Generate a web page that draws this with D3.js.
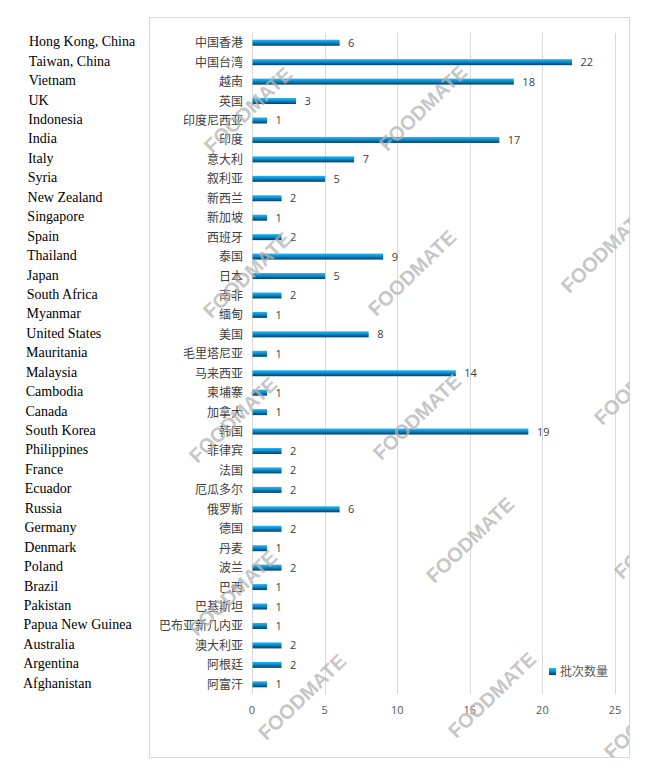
<!DOCTYPE html>
<html>
<head>
<meta charset="utf-8">
<script src="https://cdn.jsdelivr.net/npm/d3@7"></script>
<style>
  body { margin: 0; background: #fff; }
</style>
</head>
<body>
<div id="chart"></div>
<script>
const categories = ['中国香港', '中国台湾', '越南', '英国', '印度尼西亚', '印度', '意大利', '叙利亚', '新西兰', '新加坡',
  '西班牙', '泰国', '日本', '南非', '缅甸', '美国', '毛里塔尼亚', '马来西亚', '柬埔寨', '加拿大', '韩国', '菲律宾',
  '法国', '厄瓜多尔', '俄罗斯', '德国', '丹麦', '波兰', '巴西', '巴基斯坦', '巴布亚新几内亚', '澳大利亚', '阿根廷', '阿富汗'];
const englishNames = ['Hong Kong, China', 'Taiwan, China', 'Vietnam', 'UK', 'Indonesia', 'India', 'Italy', 'Syria',
  'New Zealand', 'Singapore', 'Spain', 'Thailand', 'Japan', 'South Africa', 'Myanmar', 'United States', 'Mauritania',
  'Malaysia', 'Cambodia', 'Canada', 'South Korea', 'Philippines', 'France', 'Ecuador', 'Russia', 'Germany', 'Denmark',
  'Poland', 'Brazil', 'Pakistan', 'Papua New Guinea', 'Australia', 'Argentina', 'Afghanistan'];
const values = [6, 22, 18, 3, 1, 17, 7, 5, 2, 1, 2, 9, 5, 2, 1, 8, 1, 14, 1, 1, 19, 2, 2, 2, 6, 2, 1, 2, 1, 1, 1, 2, 2, 1];
const xTicks = [0, 5, 10, 15, 20, 25];
const seriesName = '批次数量';

// watermark centres (decoration only)
const marks = [[248, 110], [423, 108], [605, 250], [247, 275], [412, 273], [233, 420], [417, 417], [638, 382],
  [233, 593], [470, 540], [658, 536], [302, 697], [492, 695], [648, 716]];

const width = 657;
const height = 772;
const box = { x: 149.5, y: 17.5, w: 480, h: 740 };

const svg = d3.select('#chart').append('svg')
  .attr('width', width)
  .attr('height', height);

const defs = svg.append('defs');
const grad = defs.append('linearGradient')
  .attr('id', 'barGrad')
  .attr('x1', '0%').attr('y1', '0%')
  .attr('x2', '0%').attr('y2', '100%');
grad.append('stop').attr('offset', '0%').style('stop-color', '#2bb6f0');
grad.append('stop').attr('offset', '45%').style('stop-color', '#0a8ccc');
grad.append('stop').attr('offset', '100%').style('stop-color', '#003d66');

defs.append('clipPath').attr('id', 'boxClip')
  .append('rect')
  .attr('x', box.x).attr('y', box.y)
  .attr('width', box.w).attr('height', box.h);

svg.append('rect')
  .attr('width', width).attr('height', height)
  .attr('fill', '#fff');

// chart frame
svg.append('rect')
  .attr('x', box.x).attr('y', box.y)
  .attr('width', box.w).attr('height', box.h)
  .attr('fill', '#fff')
  .attr('stroke', '#d9d9d9')
  .attr('stroke-width', 1);

const x = d3.scaleLinear()
  .domain([0, 25])
  .range([252, 615]);

const y = d3.scaleBand()
  .domain(categories)
  .range([33, 694]);

// gridlines
svg.append('g')
  .selectAll('line')
  .data(xTicks)
  .enter()
  .append('line')
  .attr('x1', d => Math.round(x(d)) + 0.5)
  .attr('x2', d => Math.round(x(d)) + 0.5)
  .attr('y1', 33)
  .attr('y2', 694)
  .attr('stroke', '#d9d9d9')
  .attr('stroke-width', 1);

// tick labels
svg.append('g')
  .selectAll('text')
  .data(xTicks)
  .enter()
  .append('text')
  .attr('x', d => x(d))
  .attr('y', 714)
  .attr('text-anchor', 'middle')
  .attr('font-family', '"Open Sans", "Liberation Sans", sans-serif')
  .attr('font-size', 11)
  .attr('fill', '#595959')
  .text(d => d);

// bars
const barH = 6;
svg.append('g')
  .selectAll('rect')
  .data(values)
  .enter()
  .append('rect')
  .attr('x', x(0) + 0.5)
  .attr('y', (d, i) => y(categories[i]) + y.bandwidth() / 2 - barH / 2)
  .attr('width', d => x(d) - x(0))
  .attr('height', barH)
  .attr('fill', 'url(#barGrad)');

// value labels
svg.append('g')
  .selectAll('text')
  .data(values)
  .enter()
  .append('text')
  .attr('x', d => x(d) + 9)
  .attr('y', (d, i) => y(categories[i]) + y.bandwidth() / 2 + 4)
  .attr('font-family', '"Open Sans", "Liberation Sans", sans-serif')
  .attr('font-size', 11)
  .attr('fill', '#404040')
  .text(d => d);

// chinese category labels
svg.append('g')
  .selectAll('text')
  .data(categories)
  .enter()
  .append('text')
  .attr('x', 243)
  .attr('y', d => y(d) + y.bandwidth() / 2 + 4.5)
  .attr('text-anchor', 'end')
  .attr('font-family', '"Noto Sans CJK SC", sans-serif')
  .attr('font-size', 12)
  .attr('fill', '#404040')
  .text(d => d);

// english names pasted at the left
svg.append('g')
  .selectAll('text')
  .data(englishNames)
  .enter()
  .append('text')
  .attr('x', (d, i) => 29 - 6 * i / (englishNames.length - 1))
  .attr('y', (d, i) => y(categories[i]) + y.bandwidth() / 2 + 3.5)
  .attr('font-family', '"Liberation Serif", "Times New Roman", serif')
  .attr('font-size', 14)
  .attr('fill', '#000')
  .text(d => d);

// legend
svg.append('rect')
  .attr('x', 549)
  .attr('y', 668)
  .attr('width', 7)
  .attr('height', 7)
  .attr('fill', 'url(#barGrad)');
svg.append('text')
  .attr('x', 560)
  .attr('y', 676)
  .attr('font-family', '"Noto Sans CJK SC", sans-serif')
  .attr('font-size', 12)
  .attr('fill', '#595959')
  .text(seriesName);

// watermark
svg.append('g')
  .attr('clip-path', 'url(#boxClip)')
  .selectAll('text')
  .data(marks)
  .enter()
  .append('text')
  .attr('transform', d => `translate(${d[0]},${d[1]}) rotate(-44)`)
  .attr('text-anchor', 'middle')
  .attr('dy', '0.35em')
  .attr('font-family', '"Liberation Sans", Arial, sans-serif')
  .attr('font-weight', 'bold')
  .attr('font-size', 20)
  .attr('fill', '#b4b4b4')
  .attr('fill-opacity', 0.75)
  .text('FOODMATE');
</script>
</body>
</html>
